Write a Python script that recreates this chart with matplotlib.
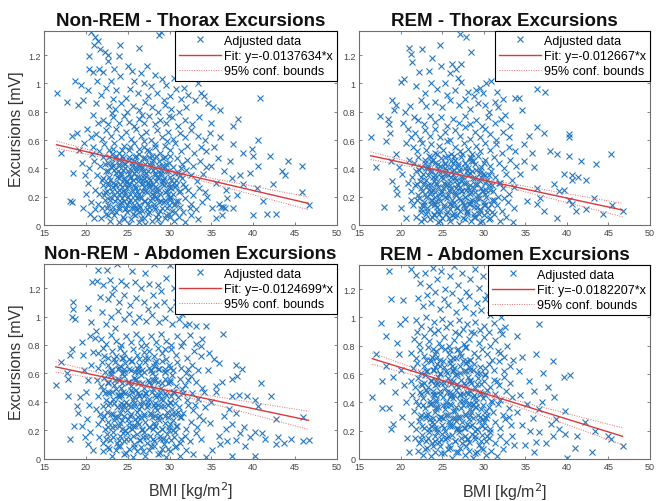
import numpy as np
import matplotlib
matplotlib.use("Agg")
import matplotlib.pyplot as plt

plt.rcParams['font.family'] = ['Liberation Sans', 'DejaVu Sans']

# ---------------- data (hand-estimated from the picture) ----------------
titles = ["Non-REM - Thorax Excursions", "REM - Thorax Excursions",
          "Non-REM - Abdomen Excursions", "REM - Abdomen Excursions"]
fit_slope = [-0.0137634, -0.012667, -0.0124699, -0.0182207]
fit_intercept = [0.794, 0.697, 0.850, 1.011]
fit_labels = ["Fit: y=-0.0137634*x", "Fit: y=-0.012667*x",
              "Fit: y=-0.0124699*x", "Fit: y=-0.0182207*x"]
conf_center = [27.3, 27.3, 27.3, 28.5]
conf_h0 = [0.006, 0.006, 0.009, 0.010]
conf_k = [0.00232, 0.00243, 0.0033, 0.00325]
x_ticks = [15, 20, 25, 30, 35, 40, 45, 50]
y_ticks = [0, 0.2, 0.4, 0.6, 0.8, 1.0, 1.2]
y_tick_labels = ["0", "0.2", "0.4", "0.6", "0.8", "1", "1.2"]

NREM_THORAX_PTS = """
20.6,1.36 21.1,1.33 21.4,1.30 21.0,1.27 21.7,1.24 22.3,1.22 22.7,1.20 20.4,1.19 24.1,1.27 26.4,1.25 28.7,1.34 29.0,1.36
31.2,1.22 24.0,1.19 22.6,1.16 21.6,1.10 20.4,1.10 20.9,1.08 22.0,1.08 23.4,1.10 25.0,1.12 25.5,1.09 26.6,1.07 27.3,1.12
28.2,1.06 29.1,1.03 30.5,1.04 31.9,1.08 32.6,1.10 21.3,1.02 23.0,1.02 24.1,1.05 25.8,1.02 27.0,1.00 27.8,.98 29.6,.99
30.8,.96 31.7,.97 33.4,1.00 33.8,.93 22.4,.97 23.6,.95 25.3,.96 26.2,.93 28.5,.93 30.1,.91 32.2,.92 33.0,.88 34.1,.91
34.6,.86 35.2,.83 19.4,.99 18.7,1.02 19.6,.88 19.1,.85 17.8,.87 16.5,.93 36.0,.81 40.8,.90 24.8,.90 27.4,.91 29.3,.88
31.4,.89 23.2,.89 21.8,.92 20.3,.95
18.4,.63 19.0,.65 17.0,.51 18.5,.37 18.1,.17 18.4,.16 19.2,.53 19.8,.58 19.5,.44 20.2,.30 20.0,.22 19.7,.12 20.5,.08
21.0,.05 20.4,.40 20.7,.50 20.1,.68 20.8,.78 21.2,.86 19.9,.35 20.6,.16 21.1,.11
37.6,.70 38.2,.75 37.6,.57 38.8,.51 39.8,.54 40.6,.60 40.0,.49 42.0,.49 43.4,.38 44.2,.45 43.8,.35 45.8,.42 40.6,.42
39.6,.37 40.4,.26 41.2,.17 41.6,.08 42.7,.08 40.0,.07 46.6,.14 45.8,.23 42.4,.29 38.8,.29 38.0,.21 37.6,.12 36.3,.07
37.2,.45 38.4,.35 36.5,.38 35.8,.47 35.3,.55 36.0,.62 34.8,.65 35.5,.30 36.8,.25 35.9,.15 36.4,.13 35.1,.12 34.5,.20
36.9,.19 37.4,.33 36.2,.13 36.6,.12 35.0,.72 34.9,.42 35.6,.05
22.8,.84 23.5,.82 24.2,.86 24.9,.80 25.6,.84 26.3,.81 27.1,.87 27.9,.83 28.6,.80 29.4,.85 30.2,.82 31.1,.80 23.1,.79
26.7,.78 29.9,.77 32.0,.83
22.0,.74 22.6,.71 23.3,.76 23.9,.72 24.5,.77 25.1,.73 25.8,.70 26.4,.75 27.0,.72 27.6,.77 28.3,.71 28.9,.74 29.6,.72
30.3,.76 31.0,.70 31.8,.74 32.7,.71 21.5,.72 33.5,.76
21.2,.64 21.9,.61 22.4,.67 23.0,.63 23.6,.68 24.2,.62 24.8,.66 25.4,.61 26.0,.68 26.6,.63 27.2,.66 27.8,.60 28.5,.67
29.1,.62 29.8,.66 30.4,.61 31.2,.65 31.9,.62 32.6,.67 33.4,.63 34.2,.60 20.6,.62
20.9,.55 21.6,.52 22.2,.57 22.8,.53 23.4,.58 24.0,.51 24.6,.56 25.2,.53 25.8,.58 26.4,.50 27.0,.55 27.6,.52 28.2,.57
28.8,.51 29.4,.56 30.0,.53 30.7,.58 31.4,.52 32.1,.56 32.9,.51 33.7,.55 34.4,.52 23.1,.50 26.9,.59 29.7,.59
21.0,.45 21.7,.42 22.1,.48 22.6,.44 23.0,.41 23.5,.47 23.9,.43 24.3,.49 24.7,.40 25.1,.46 25.5,.42 25.9,.48 26.3,.44
26.7,.41 27.1,.47 27.5,.43 27.9,.49 28.3,.40 28.7,.45 29.1,.42 29.5,.48 29.9,.44 30.4,.41 30.9,.47 31.5,.43 32.1,.46
32.8,.42 33.6,.45 34.3,.41 24.0,.46 26.0,.40 28.0,.46 30.0,.49
21.3,.35 21.9,.32 22.4,.38 22.8,.34 23.2,.30 23.6,.37 24.0,.33 24.4,.39 24.8,.31 25.2,.36 25.6,.32 26.0,.38 26.4,.34
26.8,.30 27.2,.37 27.6,.33 28.0,.39 28.4,.31 28.8,.36 29.2,.32 29.6,.38 30.0,.34 30.5,.30 31.0,.37 31.5,.33 32.0,.39
32.6,.35 33.3,.31 34.0,.36 24.2,.35 26.2,.31 28.2,.35 25.4,.39 27.4,.30
21.1,.25 21.6,.22 22.0,.28 22.5,.24 22.9,.20 23.3,.27 23.7,.23 24.1,.29 24.5,.21 24.9,.26 25.3,.22 25.7,.28 26.1,.24
26.5,.20 26.9,.27 27.3,.23 27.7,.29 28.1,.21 28.5,.26 28.9,.22 29.3,.28 29.7,.24 30.1,.20 30.6,.27 31.1,.23 31.6,.29
32.2,.25 32.8,.21 33.5,.26 34.2,.23 23.9,.25 25.9,.21 27.9,.25 29.9,.29 24.7,.29 26.7,.24
21.4,.15 21.9,.12 22.3,.18 22.7,.14 23.1,.10 23.5,.17 23.9,.13 24.3,.19 24.7,.11 25.1,.16 25.5,.12 25.9,.18 26.3,.14
26.7,.10 27.1,.17 27.5,.13 27.9,.19 28.3,.11 28.7,.16 29.1,.12 29.5,.18 29.9,.14 30.3,.10 30.8,.17 31.3,.13 31.9,.19
32.5,.15 33.2,.11 33.9,.16 24.1,.15 26.1,.11 28.1,.15 30.1,.19
21.8,.05 22.4,.08 22.9,.03 23.4,.07 23.9,.02 24.4,.06 24.9,.09 25.4,.04 25.9,.07 26.4,.02 26.9,.05 27.4,.08 27.9,.03
28.4,.06 28.9,.01 29.4,.05 29.9,.08 30.5,.03 31.1,.06 31.8,.02 32.6,.07 33.4,.04 25.2,.01 27.1,.01
23.3,.42 23.8,.38 24.6,.44 25.4,.34 26.2,.43 27.0,.35 27.8,.42 28.6,.33 29.4,.41 23.6,.28 24.4,.24 25.2,.30 26.0,.26
26.8,.32 27.6,.27 28.4,.24 29.2,.31 30.2,.26 23.4,.21 24.2,.16 25.0,.20 25.8,.14 26.6,.19 27.4,.15 28.2,.20 29.0,.17
29.8,.22 24.6,.33 25.8,.45 26.9,.38 28.0,.29 29.0,.37 30.8,.32 31.8,.27 31.4,.40 22.6,.30 22.2,.21 30.6,.15 31.6,.09
32.4,.12 24.8,.12 26.4,.09 28.6,.08 30.0,.06
22.7,.07 23.6,.09 24.6,.04 25.6,.08 26.6,.05 27.6,.09 28.6,.04 29.6,.07 30.6,.09
22.5,.12 23.3,.13 24.0,.11 24.9,.14 25.7,.12 26.5,.13 27.3,.11 28.1,.13 28.9,.10 29.7,.12 30.5,.14
22.9,.18 23.7,.19 24.5,.17 25.3,.18 26.1,.19 26.9,.17 27.7,.18 28.5,.19 29.3,.16 30.1,.18 31.0,.17
22.3,.23 23.1,.24 23.9,.22 24.7,.23 25.5,.25 26.3,.22 27.1,.24 27.9,.22 28.7,.25 29.5,.23 30.4,.22 31.3,.24
22.7,.28 23.5,.29 24.3,.27 25.1,.28 25.9,.27 26.7,.29 27.5,.28 28.3,.27 29.1,.29 29.9,.27 30.8,.28
22.1,.33 22.9,.32 23.7,.34 24.5,.32 25.3,.33 26.1,.34 26.9,.33 27.7,.32 28.5,.34 29.3,.33 30.2,.32 31.2,.35
22.6,.38 23.4,.39 24.2,.37 25.0,.38 25.8,.37 26.6,.39 27.4,.38 28.2,.37 29.0,.39 29.8,.38 30.7,.37
22.3,.43 23.1,.44 23.9,.42 24.7,.43 25.5,.44 26.3,.42 27.1,.43 27.9,.44 28.7,.42 29.6,.43
22.8,.48 23.6,.49 24.4,.47 25.2,.48 26.0,.49 26.8,.47 27.6,.48 28.4,.49 29.2,.47
23.3,.54 24.3,.53 25.3,.55 26.3,.54 27.3,.53 28.3,.55
"""

REM_THORAX_PTS = """
16.4,.62 17.5,.77 17.0,.41 18.0,.13 18.2,.59 18.6,.71 18.5,.75 18.7,.65 19.0,.88 19.4,.85 19.2,.81 20.0,1.01 20.4,1.03
21.0,1.25 21.2,1.21 21.4,1.15 22.6,1.24 22.2,1.08 23.4,1.09 23.8,1.18 24.7,1.27 24.9,1.12 25.9,1.07 26.2,1.14 26.7,1.10
26.9,1.04 27.3,1.01 27.1,1.35 27.9,1.33 28.5,1.22 27.3,1.14 29.1,.95 29.5,.97 30.3,1.00 30.9,1.02 28.1,.94 30.1,.85
31.3,.87 31.7,.83 32.6,.78 33.2,.70 33.8,.90 34.2,.90 34.6,.81 36.4,.96 37.4,.94 36.4,.69 37.2,.65 35.4,.63 34.8,.57
35.8,.51 38.0,.52 38.8,.50 40.2,.64 40.3,.62 40.3,.49 41.7,.45 43.5,.43 45.3,.50 40.6,.32 41.3,.34 42.3,.32 40.6,.35
39.6,.36 38.4,.29 39.0,.24 39.6,.25 40.2,.18 40.6,.15 41.1,.10 42.3,.11 43.3,.19 45.4,.14 46.7,.10 44.3,.08 38.8,.05
37.2,.10 36.4,.15 36.8,.19 35.2,.17 36.0,.41 34.8,.45 34.4,.36 36.4,.26 19.6,.22 20.0,.12 20.6,.05 19.4,.26 19.0,.31
18.8,.45 19.4,.50 19.8,.41
21.8,.98 22.9,.93 23.6,1.00 24.4,.96 25.4,1.00 25.6,.92 26.5,.95 27.8,.89 28.8,.91 29.9,.93 31.6,.94 32.3,.89 22.4,.88
23.1,.84 24.1,.87 25.0,.83 26.0,.88 27.0,.85 28.4,.82 29.3,.86 30.6,.80 20.5,.80 21.1,.84 21.6,.76 20.3,.72 20.9,.68
20.7,.58 21.2,.62 20.2,.36 20.9,.30 21.3,.18 21.0,.46
22.1,.74 22.8,.71 23.5,.77 24.2,.73 24.9,.76 25.6,.70 26.3,.75 27.0,.72 27.7,.77 28.4,.71 29.1,.74 29.8,.70 30.5,.76
31.3,.72 32.1,.75
21.7,.65 22.3,.61 22.9,.67 23.5,.63 24.1,.68 24.7,.62 25.3,.66 25.9,.60 26.5,.67 27.1,.63 27.7,.69 28.3,.61 28.9,.66
29.5,.62 30.1,.68 30.8,.64 31.5,.60 32.3,.66 33.1,.62
21.5,.55 22.0,.52 22.6,.58 23.1,.53 23.6,.57 24.1,.51 24.6,.56 25.1,.53 25.6,.59 26.1,.50 26.6,.55 27.1,.52 27.6,.58
28.1,.54 28.6,.50 29.1,.56 29.6,.52 30.2,.58 30.8,.53 31.5,.57 32.2,.51 33.0,.55 33.8,.52
21.6,.44 22.1,.48 22.5,.41 22.9,.46 23.3,.42 23.7,.48 24.1,.44 24.5,.40 24.9,.47 25.3,.43 25.7,.49 26.1,.41 26.5,.46
26.9,.42 27.3,.48 27.7,.44 28.1,.40 28.5,.47 28.9,.43 29.3,.49 29.7,.41 30.2,.46 30.7,.42 31.2,.48 31.8,.44 32.5,.40
33.2,.46 33.9,.42 23.9,.46 26.3,.44 28.7,.45 30.0,.44
21.4,.34 21.9,.38 22.3,.31 22.7,.36 23.1,.32 23.5,.38 23.9,.34 24.3,.30 24.7,.37 25.1,.33 25.5,.39 25.9,.31 26.3,.36
26.7,.32 27.1,.38 27.5,.34 27.9,.30 28.3,.37 28.7,.33 29.1,.39 29.5,.31 29.9,.36 30.4,.32 30.9,.38 31.4,.34 32.0,.30
32.7,.36 33.4,.32 24.1,.35 26.1,.34 28.1,.35 30.2,.35 25.3,.36 27.3,.31
21.2,.24 21.7,.28 22.1,.21 22.5,.26 22.9,.22 23.3,.28 23.7,.24 24.1,.20 24.5,.27 24.9,.23 25.3,.29 25.7,.21 26.1,.26
26.5,.22 26.9,.28 27.3,.24 27.7,.20 28.1,.27 28.5,.23 28.9,.29 29.3,.21 29.7,.26 30.1,.22 30.6,.28 31.1,.24 31.7,.20
32.3,.26 33.0,.22 33.7,.27 23.9,.25 25.9,.24 27.9,.25 29.9,.24 24.7,.22 26.7,.26
21.5,.14 22.0,.18 22.4,.11 22.8,.16 23.2,.12 23.6,.18 24.0,.14 24.4,.10 24.8,.17 25.2,.13 25.6,.19 26.0,.11 26.4,.16
26.8,.12 27.2,.18 27.6,.14 28.0,.10 28.4,.17 28.8,.13 29.2,.19 29.6,.11 30.0,.16 30.5,.12 31.0,.18 31.6,.14 32.2,.10
32.9,.16 33.6,.12 24.2,.15 26.2,.14 28.2,.15 30.2,.14
21.9,.06 22.5,.03 23.0,.08 23.5,.04 24.0,.07 24.5,.02 25.0,.05 25.5,.08 26.0,.03 26.5,.06 27.0,.01 27.5,.05 28.0,.08
28.5,.03 29.0,.06 29.5,.02 30.0,.07 30.6,.04 31.2,.08 31.9,.03 32.7,.06 33.5,.02
23.3,.40 24.0,.31 24.8,.42 25.6,.28 26.4,.39 27.2,.27 28.0,.38 28.8,.26 29.6,.37 23.5,.22 24.3,.17 25.1,.26 25.9,.15
26.7,.21 27.5,.16 28.3,.22 29.1,.16 30.3,.25 24.6,.08 26.2,.07 27.8,.12 29.4,.08 31.0,.09 31.8,.30 32.5,.19 23.0,.27
22.6,.14
22.8,.04 23.8,.06 24.8,.03 25.8,.05 26.8,.07 27.8,.04 28.8,.06 29.8,.03 30.8,.05
22.4,.09 23.2,.10 24.0,.08 24.8,.10 25.6,.09 26.4,.08 27.2,.10 28.0,.09 28.8,.08 29.6,.10 30.4,.09
22.8,.14 23.6,.15 24.4,.13 25.2,.14 26.0,.15 26.8,.13 27.6,.14 28.4,.15 29.2,.13 30.0,.14 30.9,.15
22.2,.19 23.0,.20 23.8,.18 24.6,.19 25.4,.20 26.2,.18 27.0,.19 27.8,.20 28.6,.18 29.4,.19 30.3,.20 31.2,.18
22.6,.24 23.4,.25 24.2,.23 25.0,.24 25.8,.25 26.6,.23 27.4,.24 28.2,.25 29.0,.23 29.8,.24 30.7,.25
22.0,.29 22.8,.30 23.6,.28 24.4,.29 25.2,.30 26.0,.28 26.8,.29 27.6,.30 28.4,.28 29.2,.29 30.1,.30 31.0,.28
22.5,.34 23.3,.35 24.1,.33 24.9,.34 25.7,.35 26.5,.33 27.3,.34 28.1,.35 28.9,.33 29.7,.34 30.6,.35
22.2,.39 23.0,.40 23.8,.38 24.6,.39 25.4,.40 26.2,.38 27.0,.39 27.8,.40 28.6,.38 29.5,.39
22.9,.44 23.7,.45 24.5,.43 25.3,.44 26.1,.45 26.9,.43 27.7,.44 28.5,.45
23.4,.49 24.4,.50 25.4,.48 26.4,.49 27.4,.50 28.4,.48
"""

NREM_ABDOMEN_PTS = """
20.3,1.06 20.7,1.24 21.5,1.33 22.5,1.33 21.3,1.25 22.9,1.26 23.7,1.37 25.5,1.32 27.1,1.31 28.1,1.37 30.1,1.36 31.1,1.33
29.0,1.18 28.6,1.22 22.0,1.22 23.4,1.20 24.2,1.25 24.8,1.22 25.9,1.24 26.6,1.20 27.6,1.23 28.0,1.15 29.6,1.27 30.5,1.20
31.6,1.15 32.3,1.22 21.7,1.14 22.6,1.12 23.1,1.16 24.0,1.10 24.6,1.15 25.3,1.08 26.0,1.13 26.9,1.10 27.4,1.05 28.4,1.08
29.3,1.10 30.0,1.05 30.8,1.10 31.5,1.02 32.6,1.05 21.9,1.03 23.0,1.00 23.8,1.04 24.5,.98 25.1,1.02 25.8,.96 26.4,1.00
27.2,.97 27.9,1.01 28.7,.96 29.5,.99 30.3,.95 31.1,.98 31.9,.94 22.4,.95 23.5,.92 32.3,.95 33.1,.93 33.9,.84 33.7,.79
34.3,.93 36.4,.88 20.6,.96 21.2,.90
16.4,.52 17.0,.68 17.7,.60 18.1,.73 18.3,.77 17.9,.44 18.1,.14 18.6,.23 18.5,1.10 18.5,1.05 18.4,1.00 18.7,.98 17.9,.56
19.5,.82 19.7,.73 19.1,.32 18.9,.37 19.5,.23 19.3,.43 19.8,.62 20.2,.55 20.0,.47 20.4,.38 20.1,.28 20.5,.19 20.3,.10
20.9,.06 19.9,.15 20.6,.66 20.9,.75 21.1,.85 20.5,.86
34.7,.74 35.3,.70 35.9,.67 37.9,.66 38.7,.63 38.1,.58 37.5,.56 36.3,.54 35.5,.51 35.5,.47 37.5,.44 38.3,.45 39.2,.44
40.2,.41 40.9,.53 42.1,.44 40.6,.37 42.7,.28 45.9,.29 45.9,.12 46.6,.13 43.7,.11 42.7,.10 40.2,.19 41.0,.18 39.6,.15
40.2,.02 37.5,.02 37.9,.13 38.4,.18 37.5,.24 36.7,.21 35.9,.16 35.1,.06 34.3,.01 36.5,.30 37.9,.32 37.1,.35 34.6,.62
35.0,.40 34.8,.25 36.0,.10 39.0,.09 41.4,.14 43.0,.15 44.5,.14 38.9,.22 36.9,.12
21.8,.84 22.4,.81 23.0,.87 23.6,.83 24.2,.80 24.8,.86 25.4,.82 26.0,.88 26.6,.84 27.2,.80 27.8,.86 28.4,.82 29.0,.88
29.6,.83 30.2,.80 30.9,.86 31.6,.82 32.4,.87 33.2,.81
21.5,.74 22.0,.78 22.6,.71 23.1,.76 23.6,.72 24.1,.78 24.6,.74 25.1,.70 25.6,.77 26.1,.73 26.6,.79 27.1,.71 27.6,.76
28.1,.72 28.6,.78 29.1,.74 29.6,.70 30.2,.77 30.8,.73 31.4,.79 32.1,.71 32.9,.76 33.7,.72 24.3,.71 26.9,.75 29.4,.77
21.4,.64 21.9,.68 22.3,.61 22.7,.66 23.1,.62 23.5,.68 23.9,.64 24.3,.60 24.7,.67 25.1,.63 25.5,.69 25.9,.61 26.3,.66
26.7,.62 27.1,.68 27.5,.64 27.9,.60 28.3,.67 28.7,.63 29.1,.69 29.5,.61 29.9,.66 30.4,.62 30.9,.68 31.4,.64 32.0,.60
32.7,.66 33.4,.62 24.1,.65 26.1,.64 28.1,.65 30.1,.64
21.3,.55 21.8,.51 22.2,.57 22.6,.53 23.0,.59 23.4,.52 23.8,.56 24.2,.50 24.6,.58 25.0,.54 25.4,.51 25.8,.57 26.2,.53
26.6,.59 27.0,.50 27.4,.55 27.8,.52 28.2,.58 28.6,.54 29.0,.50 29.4,.56 29.8,.53 30.3,.59 30.8,.51 31.3,.56 31.9,.52
32.5,.58 33.2,.54 33.9,.50 24.0,.55 26.0,.56 28.0,.55 30.0,.55 32.2,.55
21.5,.44 22.0,.48 22.4,.41 22.8,.46 23.2,.42 23.6,.49 24.0,.43 24.4,.47 24.8,.40 25.2,.45 25.6,.41 26.0,.48 26.4,.44
26.8,.40 27.2,.46 27.6,.42 28.0,.49 28.4,.43 28.8,.47 29.2,.41 29.6,.45 30.0,.40 30.5,.47 31.0,.43 31.5,.49 32.1,.41
32.7,.46 33.4,.42 34.1,.47 24.2,.45 26.2,.46 28.2,.45 30.2,.44 25.4,.48
21.2,.35 21.7,.31 22.1,.37 22.5,.33 22.9,.39 23.3,.31 23.7,.36 24.1,.32 24.5,.38 24.9,.34 25.3,.30 25.7,.37 26.1,.33
26.5,.39 26.9,.31 27.3,.36 27.7,.32 28.1,.38 28.5,.34 28.9,.30 29.3,.37 29.7,.33 30.1,.39 30.6,.31 31.1,.36 31.6,.32
32.2,.38 32.8,.34 33.5,.30 34.2,.36 24.3,.35 26.3,.35 28.3,.36 30.3,.35
21.4,.24 21.9,.28 22.3,.21 22.7,.26 23.1,.22 23.5,.29 23.9,.23 24.3,.27 24.7,.20 25.1,.25 25.5,.21 25.9,.28 26.3,.24
26.7,.20 27.1,.26 27.5,.22 27.9,.29 28.3,.23 28.7,.27 29.1,.21 29.5,.25 29.9,.20 30.4,.27 30.9,.23 31.4,.29 32.0,.21
32.6,.26 33.3,.22 34.0,.27 24.1,.25 26.1,.26 28.1,.25 30.1,.24
21.6,.15 22.1,.11 22.5,.17 22.9,.13 23.3,.19 23.7,.11 24.1,.16 24.5,.12 24.9,.18 25.3,.14 25.7,.10 26.1,.17 26.5,.13
26.9,.19 27.3,.11 27.7,.16 28.1,.12 28.5,.18 28.9,.14 29.3,.10 29.7,.17 30.2,.13 30.7,.19 31.2,.11 31.8,.16 32.4,.12
33.1,.18 33.8,.14
22.0,.05 22.6,.08 23.1,.02 23.6,.06 24.1,.09 24.6,.03 25.1,.07 25.6,.01 26.1,.05 26.6,.08 27.1,.02 27.6,.06 28.1,.09
28.6,.03 29.1,.07 29.6,.01 30.1,.05 30.7,.08 31.3,.02 32.0,.06 32.8,.03
23.0,.60 23.8,.45 24.6,.63 25.4,.37 26.2,.61 27.0,.44 27.8,.62 28.6,.38 29.4,.63 23.4,.27 24.2,.39 25.0,.28 25.8,.43
26.6,.29 27.4,.40 28.2,.30 29.0,.42 29.8,.29 24.4,.18 25.6,.23 26.8,.15 28.0,.21 29.2,.14 30.4,.20 31.0,.33 31.6,.46
32.2,.63 22.6,.47 22.2,.72 33.0,.38
22.8,.07 23.8,.09 24.8,.04 25.8,.08 26.8,.05 27.8,.09 28.8,.04 29.8,.07 30.8,.09
22.4,.14 23.2,.15 24.0,.13 24.8,.14 25.6,.16 26.4,.13 27.2,.15 28.0,.14 28.8,.16 29.6,.13 30.5,.15 31.4,.14
22.7,.22 23.5,.23 24.3,.21 25.1,.22 25.9,.23 26.7,.21 27.5,.22 28.3,.23 29.1,.21 29.9,.22 30.8,.23
22.2,.30 23.0,.31 23.8,.29 24.6,.30 25.4,.31 26.2,.29 27.0,.30 27.8,.31 28.6,.29 29.4,.30 30.3,.31 31.2,.29
22.6,.38 23.4,.39 24.2,.37 25.0,.38 25.8,.39 26.6,.37 27.4,.38 28.2,.39 29.0,.37 29.8,.38 30.7,.39
22.3,.46 23.1,.47 23.9,.45 24.7,.46 25.5,.47 26.3,.45 27.1,.46 27.9,.47 28.7,.45 29.5,.46 30.4,.47
22.7,.54 23.5,.55 24.3,.53 25.1,.54 25.9,.55 26.7,.53 27.5,.54 28.3,.55 29.1,.53 30.0,.54
23.0,.62 23.8,.63 24.6,.61 25.4,.62 26.2,.63 27.0,.61 27.8,.62 28.6,.63 29.5,.61
23.4,.70 24.4,.71 25.4,.69 26.4,.70 27.4,.71 28.4,.69
"""

REM_ABDOMEN_PTS = """
16.6,.44 17.0,.74 17.7,.96 17.8,.55 18.2,.87 18.6,1.33 18.8,1.13 17.8,.36 18.6,.36 18.8,.21 19.1,.25 19.3,.47 18.2,.66
19.1,.58 20.3,1.12 20.5,.99 19.8,.74 21.2,1.34 19.6,.82 20.1,.63 20.6,.40 20.2,.30 20.8,.15 21.0,.05 20.4,.52 19.9,.95
32.8,.80 34.0,.87 34.6,.72 36.3,.74 36.7,.95 37.7,.51 38.5,.44 37.1,.61 39.6,.58 40.4,.59 38.3,.69 39.8,.34 38.7,.28
38.1,.25 39.1,.21 39.8,.18 41.2,.16 42.2,.26 43.4,.20 44.9,.16 45.3,.14 46.7,.09 43.0,.05 41.0,.08 40.0,.01 37.5,.11
36.3,.12 38.3,.16 36.7,.19 35.9,.29 36.7,.35 35.2,.39 34.4,.45 34.0,.33 34.6,.24 33.4,.16 35.5,.55 36.0,.48 37.0,.40
35.0,.10 36.0,.05 34.2,.62 33.5,.70 35.6,.20
21.8,1.30 22.3,1.24 22.9,1.31 23.4,1.22 23.9,1.35 24.4,1.27 24.9,1.33 25.4,1.20 25.9,1.29 26.4,1.36 26.9,1.23 27.4,1.31
27.9,1.18 28.4,1.27 28.9,1.34 29.4,1.21 29.9,1.29 30.4,1.16 31.0,1.25 31.6,1.32 22.1,1.14 22.7,1.08 23.2,1.16 23.7,1.10
24.2,1.18 24.7,1.06 25.2,1.13 25.7,1.09 26.2,1.17 26.7,1.04 27.2,1.12 27.7,1.07 28.2,1.15 28.7,1.03 29.2,1.10 29.7,1.05
30.2,1.13 30.8,1.02 31.4,1.09 32.1,1.00 21.9,.98 22.5,.94 23.0,1.00 23.5,.92 24.0,.97 24.5,.91 25.0,.99 25.5,.93
26.0,.96 26.5,.90 27.0,.98 27.5,.92 28.0,.95 28.5,.90 29.0,.97 29.5,.91 30.0,.94 30.6,.90 31.2,.96 31.9,.91 32.6,.93
21.6,.85 22.2,.81 22.8,.87 23.4,.83 24.0,.89 24.6,.82 25.2,.86 25.8,.80 26.4,.84 27.0,.88 27.6,.81 28.2,.85 28.8,.89
29.4,.82 30.0,.86 30.7,.80 31.4,.84 32.2,.88
21.3,.75 21.8,.71 22.3,.77 22.8,.73 23.3,.79 23.8,.72 24.3,.76 24.8,.70 25.3,.78 25.8,.74 26.3,.71 26.8,.77 27.3,.73
27.8,.79 28.3,.70 28.8,.75 29.3,.72 29.8,.78 30.4,.74 31.0,.70 31.7,.76 32.5,.72 24.1,.74 27.1,.75
21.5,.64 22.0,.68 22.4,.61 22.8,.66 23.2,.62 23.6,.69 24.0,.63 24.4,.67 24.8,.60 25.2,.65 25.6,.61 26.0,.68 26.4,.64
26.8,.60 27.2,.66 27.6,.62 28.0,.69 28.4,.63 28.8,.67 29.2,.61 29.6,.65 30.1,.60 30.6,.67 31.2,.63 31.8,.69 32.5,.62
33.2,.66 24.2,.65 26.2,.66 28.2,.65 30.2,.64
21.2,.55 21.7,.51 22.1,.57 22.5,.53 22.9,.59 23.3,.51 23.7,.56 24.1,.52 24.5,.58 24.9,.54 25.3,.50 25.7,.57 26.1,.53
26.5,.59 26.9,.51 27.3,.56 27.7,.52 28.1,.58 28.5,.54 28.9,.50 29.3,.57 29.7,.53 30.2,.59 30.7,.51 31.2,.56 31.8,.52
32.5,.58 33.2,.54 24.3,.55 26.3,.55 28.3,.56 30.0,.55
21.4,.45 21.9,.41 22.3,.47 22.7,.43 23.1,.49 23.5,.41 23.9,.46 24.3,.42 24.7,.48 25.1,.44 25.5,.40 25.9,.47 26.3,.43
26.7,.49 27.1,.41 27.5,.46 27.9,.42 28.3,.48 28.7,.44 29.1,.40 29.5,.47 29.9,.43 30.4,.49 30.9,.41 31.4,.46 32.0,.42
32.7,.48 33.4,.44 24.1,.45 26.1,.45 28.1,.46 30.1,.45
21.6,.34 22.1,.38 22.5,.31 22.9,.36 23.3,.32 23.7,.39 24.1,.33 24.5,.37 24.9,.30 25.3,.35 25.7,.31 26.1,.38 26.5,.34
26.9,.30 27.3,.36 27.7,.32 28.1,.39 28.5,.33 28.9,.37 29.3,.31 29.7,.35 30.1,.30 30.6,.37 31.1,.33 31.7,.39 32.3,.31
33.0,.36 24.3,.35 26.3,.34 28.3,.35 30.3,.34
21.3,.25 21.8,.21 22.2,.27 22.6,.23 23.0,.29 23.4,.21 23.8,.26 24.2,.22 24.6,.28 25.0,.24 25.4,.20 25.8,.27 26.2,.23
26.6,.29 27.0,.21 27.4,.26 27.8,.22 28.2,.28 28.6,.24 29.0,.20 29.4,.27 29.8,.23 30.3,.29 30.8,.21 31.3,.26 31.9,.22
32.6,.28 33.3,.24 24.0,.25 26.0,.25 28.0,.25 30.0,.26
21.7,.15 22.2,.11 22.6,.17 23.0,.13 23.4,.19 23.8,.11 24.2,.16 24.6,.12 25.0,.18 25.4,.14 25.8,.10 26.2,.17 26.6,.13
27.0,.19 27.4,.11 27.8,.16 28.2,.12 28.6,.18 29.0,.14 29.4,.10 29.8,.17 30.3,.13 30.8,.19 31.4,.11 32.0,.16 32.7,.12
22.1,.06 22.7,.03 23.2,.08 23.7,.02 24.2,.05 24.7,.09 25.2,.04 25.7,.07 26.2,.01 26.7,.05 27.2,.08 27.7,.03 28.2,.06
28.7,.01 29.2,.05 29.7,.08 30.3,.03 30.9,.06 31.6,.02 32.3,.07
23.1,.70 23.9,.48 24.7,.66 25.5,.38 26.3,.62 27.1,.45 27.9,.68 28.7,.39 29.5,.61 23.5,.28 24.3,.40 25.1,.29 25.9,.44
26.7,.27 27.5,.41 28.3,.31 29.1,.43 29.9,.28 24.4,.19 25.6,.15 26.8,.22 28.0,.14 29.2,.21 30.4,.16 31.0,.40 31.6,.55
32.0,.75 22.6,.52 22.0,.90 33.0,.30 33.6,.10
22.9,.07 23.9,.09 24.9,.04 25.9,.08 26.9,.05 27.9,.09 28.9,.04 29.9,.07
22.5,.14 23.3,.15 24.1,.13 24.9,.14 25.7,.16 26.5,.13 27.3,.15 28.1,.14 28.9,.16 29.7,.13 30.6,.15
22.8,.22 23.6,.23 24.4,.21 25.2,.22 26.0,.23 26.8,.21 27.6,.22 28.4,.23 29.2,.21 30.1,.22
22.3,.30 23.1,.31 23.9,.29 24.7,.30 25.5,.31 26.3,.29 27.1,.30 27.9,.31 28.7,.29 29.5,.30 30.4,.31
22.7,.38 23.5,.39 24.3,.37 25.1,.38 25.9,.39 26.7,.37 27.5,.38 28.3,.39 29.1,.37 29.9,.38
22.4,.46 23.2,.47 24.0,.45 24.8,.46 25.6,.47 26.4,.45 27.2,.46 28.0,.47 28.8,.45 29.7,.46
22.8,.54 23.6,.55 24.4,.53 25.2,.54 26.0,.55 26.8,.53 27.6,.54 28.4,.55 29.2,.53
23.1,.62 23.9,.63 24.7,.61 25.5,.62 26.3,.63 27.1,.61 27.9,.62 28.7,.63
23.5,.70 24.3,.71 25.1,.69 25.9,.70 26.7,.71 27.5,.69 28.3,.70
23.9,.78 24.9,.79 25.9,.77 26.9,.78 27.9,.79
"""


def parse_points(text):
    arr = np.array([[float(v) for v in tok.split(',')] for tok in text.split()])
    return arr[:, 0], arr[:, 1]


nrem_thorax_bmi, nrem_thorax_exc = parse_points(NREM_THORAX_PTS)
rem_thorax_bmi, rem_thorax_exc = parse_points(REM_THORAX_PTS)
nrem_abdomen_bmi, nrem_abdomen_exc = parse_points(NREM_ABDOMEN_PTS)
rem_abdomen_bmi, rem_abdomen_exc = parse_points(REM_ABDOMEN_PTS)

panels_bmi = [nrem_thorax_bmi, rem_thorax_bmi, nrem_abdomen_bmi, rem_abdomen_bmi]
panels_exc = [nrem_thorax_exc, rem_thorax_exc, nrem_abdomen_exc, rem_abdomen_exc]

# ---------------- layout ----------------
W, H = 656, 502
boxes_px = [(44, 32, 337, 226), (359, 32, 650, 226),
            (44, 265, 337, 459.5), (359, 266, 650, 460)]

fig = plt.figure(figsize=(W / 100, H / 100), dpi=100)
fig.patch.set_facecolor('white')

blue = '#2478c2'
red = '#d8393a'
red_light = '#e46a6a'
axcol = '#6e6e6e'

for i in range(4):
    l, t, r, b = boxes_px[i]
    ax = fig.add_axes([l / W, 1 - b / H, (r - l) / W, (b - t) / H])
    bmi = panels_bmi[i]
    exc = panels_exc[i]
    pts, = ax.plot(bmi, exc, linestyle='none', marker='x', ms=4.2, mew=0.8,
                   color=blue, zorder=2)
    xf = np.linspace(bmi.min(), bmi.max(), 200)
    yf = fit_intercept[i] + fit_slope[i] * xf
    hw = np.sqrt(conf_h0[i] ** 2 + (conf_k[i] * (xf - conf_center[i])) ** 2)
    fl, = ax.plot(xf, yf, color=red, lw=1.0, zorder=3)
    cb, = ax.plot(xf, yf + hw, color=red_light, lw=0.7, ls=(0, (1, 1.5)), zorder=3)
    ax.plot(xf, yf - hw, color=red_light, lw=0.7, ls=(0, (1, 1.5)), zorder=3)

    ax.set_xlim(15, 50)
    ax.set_ylim(0, 1.37)
    ax.set_xticks(x_ticks)
    ax.set_yticks(y_ticks)
    ax.set_yticklabels(y_tick_labels)
    ax.tick_params(direction='in', length=2.5, width=0.6, colors=axcol,
                   labelsize=6.5, labelcolor='#444444', top=True, right=True, pad=2.5)
    for sp in ax.spines.values():
        sp.set_color(axcol)
        sp.set_linewidth(0.8)

    ax.set_title(titles[i], fontsize=13.5, fontweight='bold', pad=4.5, color='#111111')
    if i % 2 == 0:
        ax.set_ylabel('Excursions [mV]', fontsize=11.5, labelpad=3, color='#333333')
    if i >= 2:
        ax.set_xlabel('BMI [kg/m$^2$]', fontsize=11.5, labelpad=6, color='#333333')

    leg = ax.legend([pts, fl, cb], ['Adjusted data', fit_labels[i], '95% conf. bounds'],
                    loc='upper right', bbox_to_anchor=(1.0, 1.0), borderaxespad=0.0,
                    fontsize=9, frameon=True, fancybox=False, framealpha=1,
                    edgecolor='black', handlelength=3.4, handletextpad=0.25,
                    borderpad=0.3, labelspacing=0.25, numpoints=1)
    leg.get_frame().set_linewidth(0.8)
    leg.set_zorder(10)

fig.savefig('out.png', dpi=100, facecolor='white')
